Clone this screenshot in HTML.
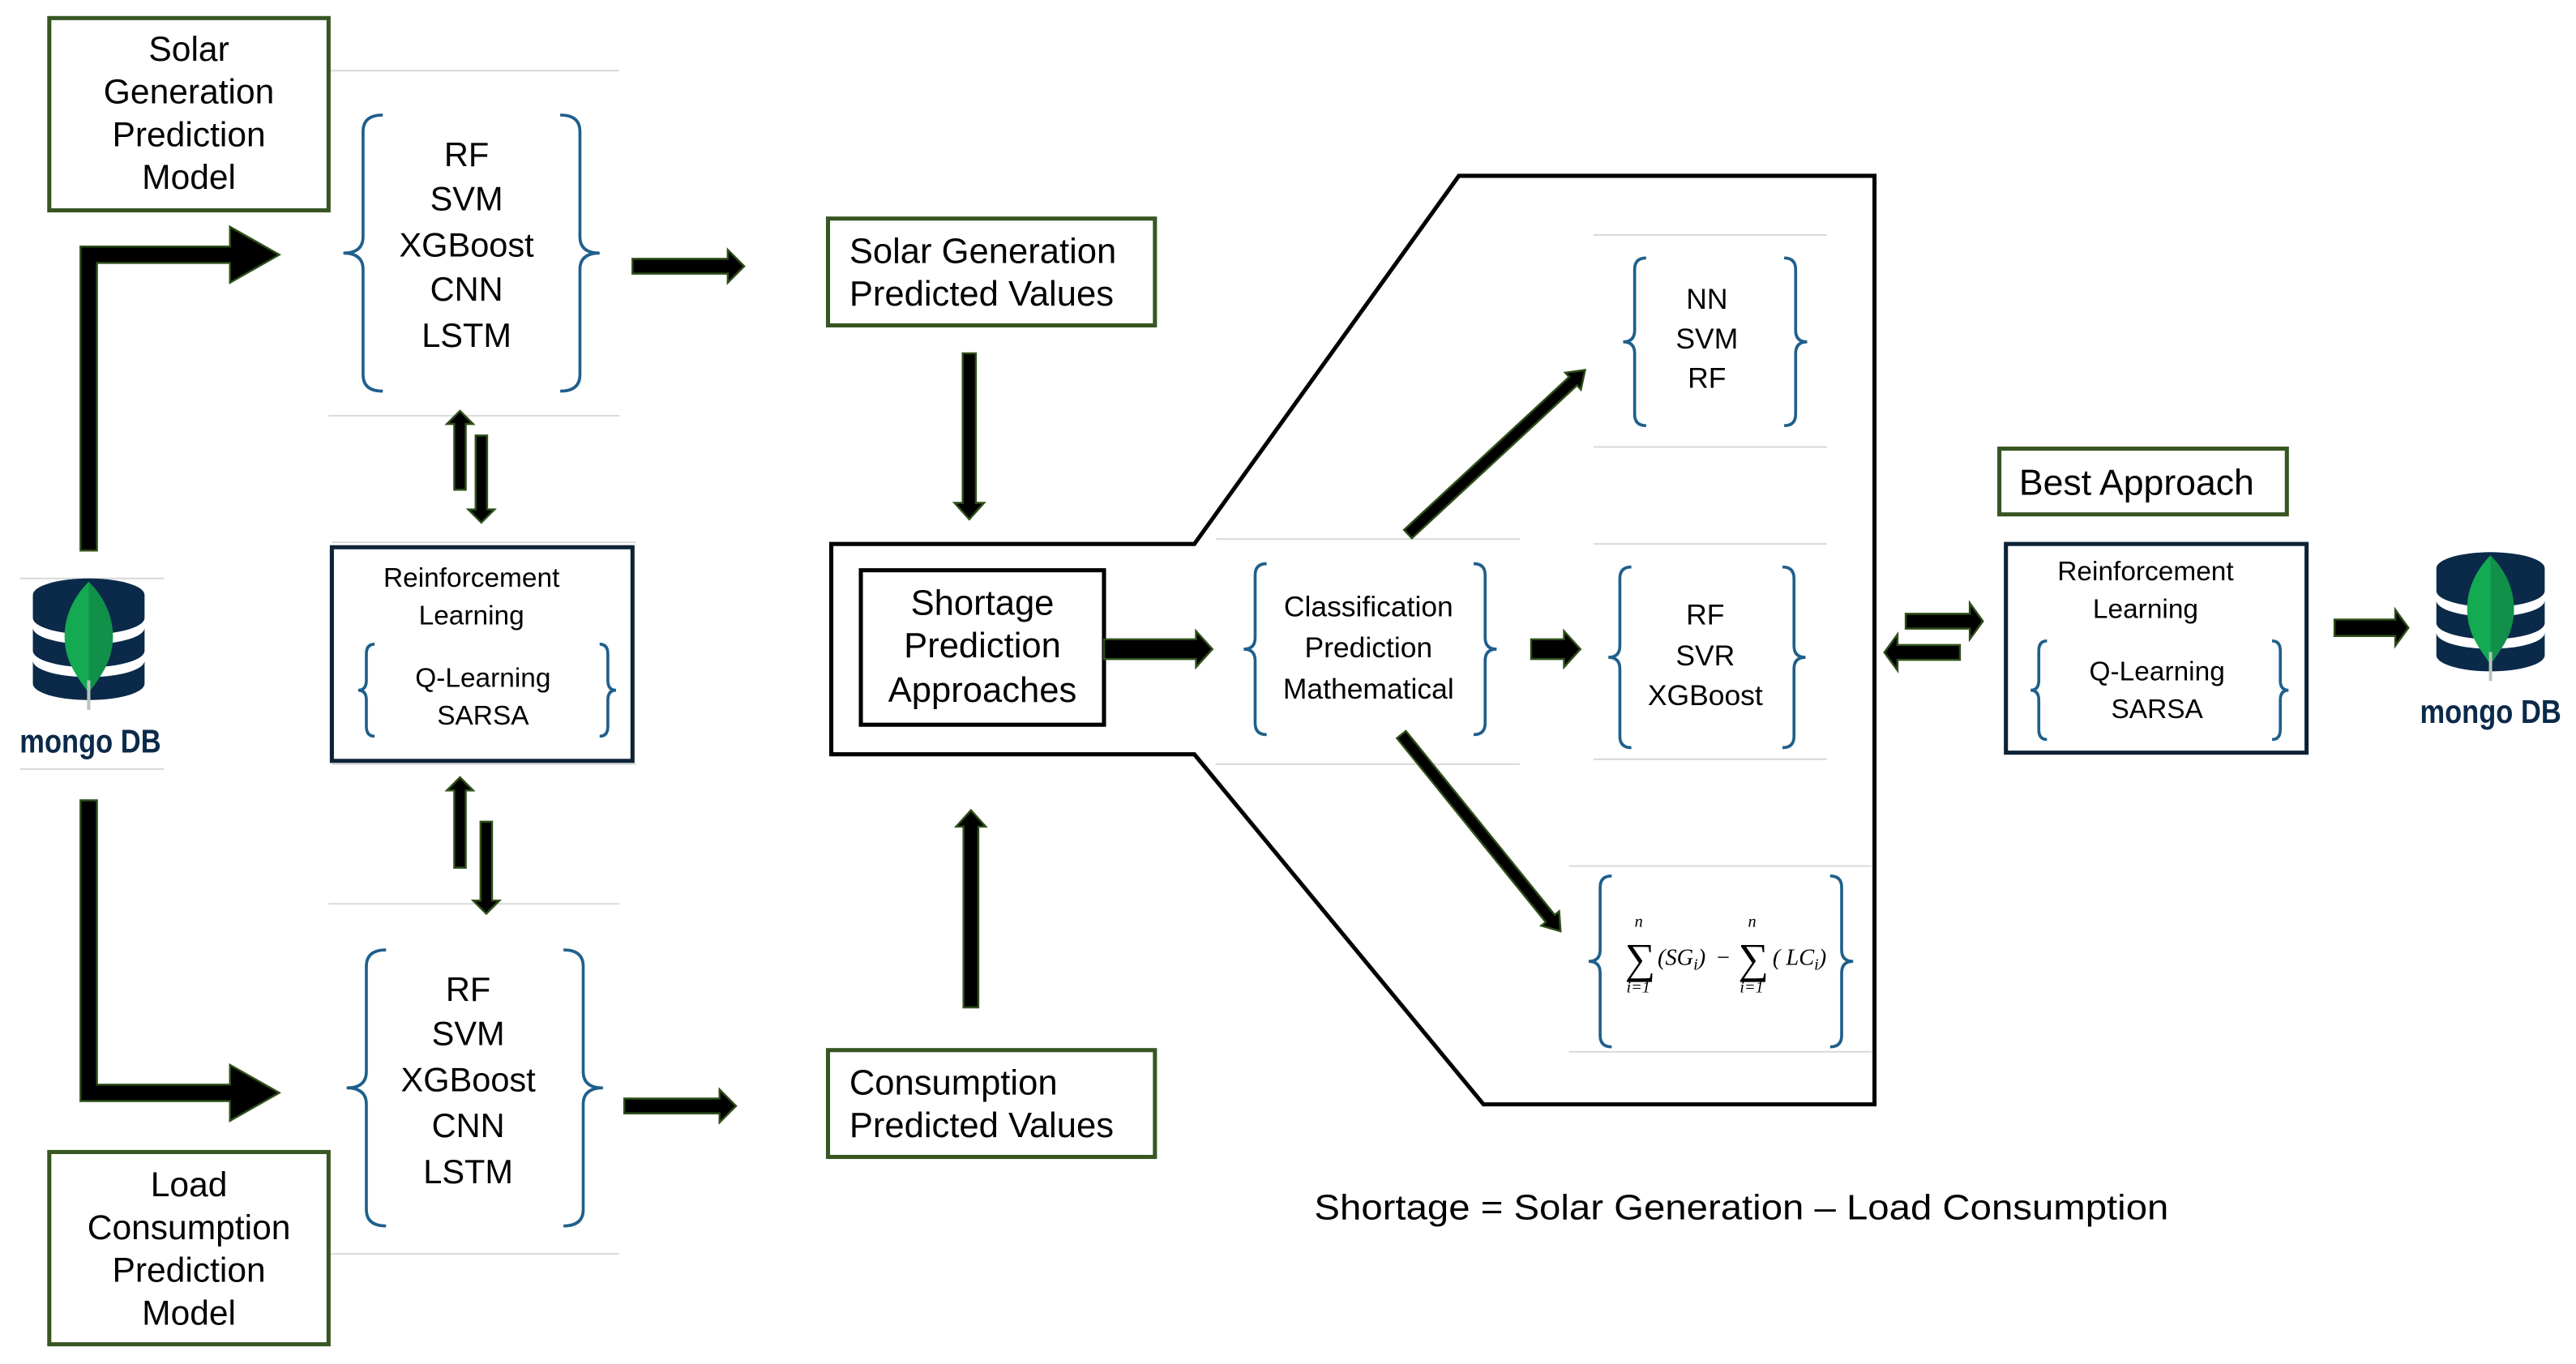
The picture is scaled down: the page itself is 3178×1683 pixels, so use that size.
<!DOCTYPE html>
<html><head><meta charset="utf-8"><style>
html,body{margin:0;padding:0;background:#fff;}
svg{display:block;}
text{font-family:"Liberation Sans",sans-serif;fill:#000;}
text.m{font-family:"Liberation Serif",serif;}
</style></head><body>
<svg width="3178" height="1683" viewBox="0 0 1568 830" preserveAspectRatio="none" xmlns="http://www.w3.org/2000/svg">
<defs>
<g id="mongo">
  <path d="M0,10 a34,10 0 0 1 68,0 v14 a34,10 0 0 1 -68,0z" fill="#0b2a4a"/>
  <path d="M0,30 a34,10 0 0 0 68,0 v14 a34,10 0 0 1 -68,0z" fill="#0b2a4a"/>
  <path d="M0,50 a34,10 0 0 0 68,0 v14 a34,10 0 0 1 -68,0z" fill="#0b2a4a"/>
  <path d="M34,2 C48,16 52,34 46,50 C42,60 36,66 34,70 C32,66 26,60 22,50 C16,34 20,16 34,2z" fill="#13aa52"/>
  <path d="M34,2 C48,16 52,34 46,50 C42,60 36,66 34,70z" fill="#11904a"/>
  <path d="M34,62 L34,80" stroke="#b8c4bc" stroke-width="2"/>
</g>
</defs>
<g fill="none" stroke="#d9d9d9" stroke-width="1">
<line x1="200" y1="43" x2="377" y2="43"/><line x1="200" y1="253" x2="377" y2="253"/>
<line x1="200" y1="550" x2="377" y2="550"/><line x1="200" y1="763" x2="377" y2="763"/>
<line x1="202" y1="330" x2="387" y2="330"/><line x1="202" y1="465" x2="387" y2="465"/>
<line x1="12" y1="352" x2="100" y2="352"/><line x1="12" y1="468" x2="100" y2="468"/>
<line x1="740" y1="328" x2="925" y2="328"/><line x1="740" y1="465" x2="925" y2="465"/>
<line x1="970" y1="143" x2="1112" y2="143"/><line x1="970" y1="272" x2="1112" y2="272"/>
<line x1="970" y1="331" x2="1112" y2="331"/><line x1="970" y1="462" x2="1112" y2="462"/>
<line x1="955" y1="527" x2="1140" y2="527"/><line x1="955" y1="640" x2="1140" y2="640"/>
</g>
<g fill="#fff" stroke="#375623" stroke-width="2.5">
<rect x="30" y="11" width="170" height="117"/>
<rect x="30" y="701" width="170" height="117"/>
<rect x="504" y="133" width="199" height="65"/>
<rect x="504" y="639" width="199" height="65"/>
<rect x="1217" y="273" width="175" height="40"/>
</g>
<g font-size="21" text-anchor="middle">
<text x="115" y="37">Solar</text><text x="115" y="63">Generation</text><text x="115" y="89">Prediction</text><text x="115" y="115">Model</text>
<text x="115" y="728">Load</text><text x="115" y="754">Consumption</text><text x="115" y="780">Prediction</text><text x="115" y="806">Model</text>
</g>
<g font-size="21.5">
<text x="517" y="160">Solar Generation</text><text x="517" y="186">Predicted Values</text>
<text x="517" y="666">Consumption</text><text x="517" y="692">Predicted Values</text>
<text x="1229" y="301" font-size="22">Best Approach</text>
</g>
<g fill="none" stroke="#1f5f8b" stroke-width="1.8">
<path d="M233,70 q-12,0 -12,10 v64 q0,10 -12,10 q12,0 12,10 v64 q0,10 12,10"/>
<path d="M341,70 q12,0 12,10 v64 q0,10 12,10 q-12,0 -12,10 v64 q0,10 -12,10"/>
<path d="M235,578 q-12,0 -12,10 v64 q0,10 -12,10 q12,0 12,10 v64 q0,10 12,10"/>
<path d="M343,578 q12,0 12,10 v64 q0,10 12,10 q-12,0 -12,10 v64 q0,10 -12,10"/>
<path d="M228,392 q-5,0 -5,6 v16 q0,6 -5,6 q5,0 5,6 v16 q0,6 5,6"/>
<path d="M365,392 q5,0 5,6 v16 q0,6 5,6 q-5,0 -5,6 v16 q0,6 -5,6"/>
<path d="M1246,390 q-5,0 -5,6 v18 q0,6 -5,6 q5,0 5,6 v18 q0,6 5,6"/>
<path d="M1383,390 q5,0 5,6 v18 q0,6 5,6 q-5,0 -5,6 v18 q0,6 -5,6"/>
<path d="M771,343 q-7,0 -7,7 v38 q0,7 -7,7 q7,0 7,7 v38 q0,7 7,7"/>
<path d="M897,343 q7,0 7,7 v38 q0,7 7,7 q-7,0 -7,7 v38 q0,7 -7,7"/>
<path d="M1002,157 q-7,0 -7,7 v37 q0,7 -7,7 q7,0 7,7 v37 q0,7 7,7"/>
<path d="M1086,157 q7,0 7,7 v37 q0,7 7,7 q-7,0 -7,7 v37 q0,7 -7,7"/>
<path d="M993,345 q-7,0 -7,7 v41 q0,7 -7,7 q7,0 7,7 v41 q0,7 7,7"/>
<path d="M1085,345 q7,0 7,7 v41 q0,7 7,7 q-7,0 -7,7 v41 q0,7 -7,7"/>
<path d="M981,533 q-7,0 -7,7 v38 q0,7 -7,7 q7,0 7,7 v38 q0,7 7,7"/>
<path d="M1114,533 q7,0 7,7 v38 q0,7 7,7 q-7,0 -7,7 v38 q0,7 -7,7"/>
</g>
<g font-size="20.5" text-anchor="middle">
<text x="284" y="101">RF</text><text x="284" y="128">SVM</text><text x="284" y="156">XGBoost</text><text x="284" y="183">CNN</text><text x="284" y="211">LSTM</text>
<text x="285" y="609">RF</text><text x="285" y="636">SVM</text><text x="285" y="664">XGBoost</text><text x="285" y="692">CNN</text><text x="285" y="720">LSTM</text>
</g>
<g font-size="17.5" text-anchor="middle">
<text x="833" y="375">Classification</text><text x="833" y="400">Prediction</text><text x="833" y="425">Mathematical</text>
<text x="1039" y="188">NN</text><text x="1039" y="212">SVM</text><text x="1039" y="236">RF</text>
<text x="1038" y="380">RF</text><text x="1038" y="405">SVR</text><text x="1038" y="429">XGBoost</text>
<text x="287" y="357" font-size="16.5">Reinforcement</text><text x="287" y="380" font-size="16.5">Learning</text>
<text x="294" y="418" font-size="16.5">Q-Learning</text><text x="294" y="441" font-size="16.5">SARSA</text>
<text x="1306" y="353" font-size="16.5">Reinforcement</text><text x="1306" y="376" font-size="16.5">Learning</text>
<text x="1313" y="414" font-size="16.5">Q-Learning</text><text x="1313" y="437" font-size="16.5">SARSA</text>
</g>
<!-- formula -->
<text class="m" x="989" y="592" font-size="26">∑</text>
<text class="m" x="995" y="564" font-size="10" font-style="italic">n</text>
<text class="m" x="990" y="604" font-size="10" font-style="italic">i=1</text>
<text class="m" x="1009" y="587" font-size="14" font-style="italic">(SG<tspan font-size="10" dy="3">i</tspan><tspan dy="-3">)</tspan></text>
<text class="m" x="1045" y="587" font-size="14">−</text>
<text class="m" x="1058" y="592" font-size="26">∑</text>
<text class="m" x="1064" y="564" font-size="10" font-style="italic">n</text>
<text class="m" x="1059" y="604" font-size="10" font-style="italic">i=1</text>
<text class="m" x="1079" y="587" font-size="14" font-style="italic">( LC<tspan font-size="10" dy="3">i</tspan><tspan dy="-3">)</tspan></text>
<g fill="none" stroke="#0e2236" stroke-width="2.5">
<rect x="202" y="333" width="183" height="130"/>
<rect x="1221" y="331" width="183" height="127"/>
</g>
<polygon points="506,331 727,331 888,107 1141,107 1141,672 903,672 727,459 506,459" fill="none" stroke="#000" stroke-width="2.5"/>
<rect x="524" y="347" width="148" height="94" fill="none" stroke="#000" stroke-width="2.5"/>
<g font-size="21.5" text-anchor="middle">
<text x="598" y="374">Shortage</text><text x="598" y="400">Prediction</text><text x="598" y="427">Approaches</text>
</g>
<text x="800" y="742" font-size="21.5" textLength="520" lengthAdjust="spacingAndGlyphs">Shortage = Solar Generation – Load Consumption</text>
<g fill="#000" stroke="#2f4f1a" stroke-width="1.2">
<polygon points="49,335 49,150 140,150 140,138 170,155 140,172 140,160 59,160 59,335"/>
<polygon points="49,487 59,487 59,660 140,660 140,648 170,665 140,682 140,670 49,670"/>
<g transform="translate(385,162)"><polygon points="0,-4.5 58,-4.5 58,-10 68,0 58,10 58,4.5 0,4.5"/></g>
<g transform="translate(380,673)"><polygon points="0,-4.5 58,-4.5 58,-10 68,0 58,10 58,4.5 0,4.5"/></g>
<g transform="translate(280,298) rotate(-90)"><polygon points="0,-3.5 40,-3.5 40,-8 48,0 40,8 40,3.5 0,3.5"/></g>
<g transform="translate(293,265) rotate(90)"><polygon points="0,-3.5 45,-3.5 45,-8 53,0 45,8 45,3.5 0,3.5"/></g>
<g transform="translate(280,528) rotate(-90)"><polygon points="0,-3.5 47,-3.5 47,-8 55,0 47,8 47,3.5 0,3.5"/></g>
<g transform="translate(296,500) rotate(90)"><polygon points="0,-3.5 48,-3.5 48,-8 56,0 48,8 48,3.5 0,3.5"/></g>
<g transform="translate(590,215) rotate(90)"><polygon points="0,-4 91,-4 91,-9 101,0 91,9 91,4 0,4"/></g>
<g transform="translate(591,613) rotate(-90)"><polygon points="0,-4.5 110,-4.5 110,-9 120,0 110,9 110,4.5 0,4.5"/></g>
<g transform="translate(672,395)"><polygon points="0,-6 56,-6 56,-11 66,0 56,11 56,6 0,6"/></g>
<g transform="translate(932,395)"><polygon points="0,-6 20,-6 20,-11 30,0 20,11 20,6 0,6"/></g>
<g transform="translate(857,325) rotate(-42.8)"><polygon points="0,-3.5 137,-3.5 137,-7 147,0 137,7 137,3.5 0,3.5"/></g>
<g transform="translate(853,447) rotate(51)"><polygon points="0,-3.5 144,-3.5 144,-7 154,0 144,7 144,3.5 0,3.5"/></g>
<g transform="translate(1160,378)"><polygon points="0,-4.5 39,-4.5 39,-11 47,0 39,11 39,4.5 0,4.5"/></g>
<g transform="translate(1193,397) rotate(180)"><polygon points="0,-4.5 38,-4.5 38,-11 46,0 38,11 38,4.5 0,4.5"/></g>
<g transform="translate(1421,382)"><polygon points="0,-5 37,-5 37,-11 45,0 37,11 37,5 0,5"/></g>
</g>
<use href="#mongo" transform="translate(20,352)"/>
<text x="55" y="458" font-size="20" font-weight="bold" text-anchor="middle" style="fill:#0b2a4a" textLength="86" lengthAdjust="spacingAndGlyphs">mongo DB</text>
<use href="#mongo" transform="translate(1483,336) scale(0.97,0.98)"/>
<text x="1516" y="440" font-size="20" font-weight="bold" text-anchor="middle" style="fill:#0b2a4a" textLength="86" lengthAdjust="spacingAndGlyphs">mongo DB</text>
</svg>
</body></html>
